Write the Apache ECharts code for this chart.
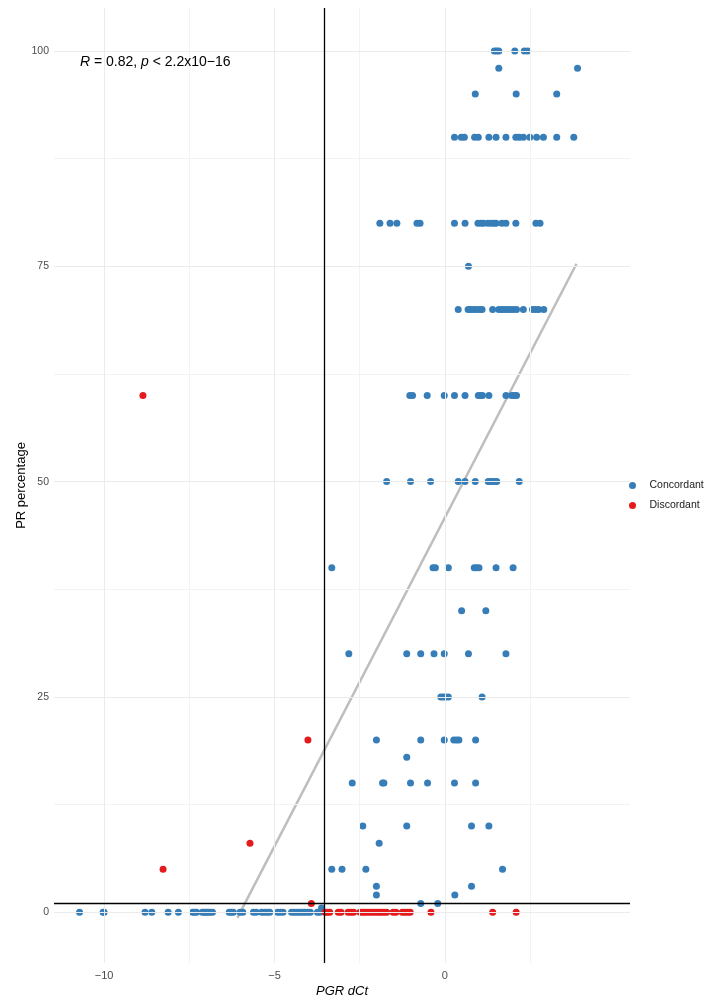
<!DOCTYPE html>
<html>
<head>
<meta charset="utf-8">
<script src="https://cdn.jsdelivr.net/npm/echarts@6/dist/echarts.min.js"></script>
<style>html,body{margin:0;padding:0;background:#fff}#c{width:712px;height:999px}</style>
</head>
<body>
<div id="c"></div>
<script>
// ---- data ----
const xTicks = [-10, -5, 0];
const yTicks = [0, 25, 50, 75, 100];
const xMinor = [-7.5, -2.5, 2.5];
const yMinor = [12.5, 37.5, 62.5, 87.5];
const refHLine = 1;
const refVLine = -3.53;
const fitLine = [[-6.09, -0.66], [3.86, 75.3]];

const concordant = [
  [1.45,100],[1.52,100],[1.58,100],[2.05,100],[2.33,100],[2.43,100],
  [1.58,98],[3.89,98],
  [0.89,95],[2.09,95],[3.28,95],
  [0.28,90],[0.48,90],[0.57,90],[0.87,90],[0.98,90],[1.29,90],[1.50,90],[1.79,90],[2.08,90],[2.18,90],[2.30,90],[2.49,90],[2.69,90],[2.89,90],[3.28,90],[3.78,90],
  [-1.91,80],[-1.61,80],[-1.41,80],[-0.82,80],[-0.73,80],[0.28,80],[0.59,80],[0.97,80],[1.06,80],[1.13,80],[1.26,80],[1.35,80],[1.43,80],[1.50,80],[1.67,80],[1.79,80],[2.08,80],[2.67,80],[2.79,80],
  [0.69,75],
  [0.39,70],[0.68,70],[0.75,70],[0.83,70],[0.91,70],[1.01,70],[1.09,70],[1.40,70],[1.58,70],[1.66,70],[1.74,70],[1.83,70],[1.91,70],[2.00,70],[2.10,70],[2.30,70],[2.57,70],[2.66,70],[2.75,70],[2.90,70],
  [-1.03,60],[-0.95,60],[-0.52,60],[-0.02,60],[0.28,60],[0.59,60],[0.98,60],[1.05,60],[1.10,60],[1.29,60],[1.79,60],[1.96,60],[2.03,60],[2.10,60],
  [-1.71,50],[-1.01,50],[-0.42,50],[0.39,50],[0.59,50],[0.89,50],[1.27,50],[1.35,50],[1.44,50],[1.52,50],[2.18,50],
  [-3.32,40],[-0.35,40],[-0.28,40],[0.10,40],[0.86,40],[0.93,40],[1.00,40],[1.50,40],[2.00,40],
  [0.49,35],[1.20,35],
  [-2.82,30],[-1.12,30],[-0.71,30],[-0.32,30],[-0.02,30],[0.69,30],[1.79,30],
  [-0.12,25],[-0.05,25],[0.02,25],[0.10,25],[1.09,25],
  [-2.01,20],[-0.71,20],[-0.02,20],[0.26,20],[0.34,20],[0.41,20],[0.90,20],
  [-1.12,18],
  [-2.72,15],[-1.83,15],[-1.79,15],[-1.01,15],[-0.51,15],[0.28,15],[0.90,15],
  [-2.41,10],[-1.12,10],[0.78,10],[1.29,10],
  [-1.93,8],
  [-3.32,5],[-3.02,5],[-2.32,5],[1.69,5],
  [-2.01,3],[0.78,3],
  [-2.01,2],[0.29,2],
  [-0.71,1],[-0.21,1],
  [-3.62,0.5],
  [-10.72,0],[-10.03,0],[-10.0,0],[-8.8,0],[-8.6,0],[-8.12,0],[-7.82,0],[-7.4,0],[-7.35,0],[-7.29,0],[-7.12,0],[-7.06,0],[-7.0,0],[-6.95,0],[-6.89,0],[-6.82,0],[-6.33,0],[-6.27,0],[-6.21,0],[-6.01,0],[-5.93,0],[-5.62,0],[-5.54,0],[-5.38,0],[-5.30,0],[-5.22,0],[-5.14,0],[-4.91,0],[-4.83,0],[-4.75,0],[-4.50,0],[-4.42,0],[-4.34,0],[-4.26,0],[-4.18,0],[-4.11,0],[-4.03,0],[-3.95,0],[-3.74,0],[-3.67,0]
];

const discordant = [
  [-8.86,60],[-4.02,20],[-5.72,8],[-8.27,5],[-3.92,1],
  [-3.52,0],[-3.45,0],[-3.38,0],[-3.13,0],[-3.05,0],[-2.84,0],[-2.76,0],[-2.68,0],[-2.49,0],[-2.41,0],[-2.34,0],[-2.26,0],[-2.18,0],[-2.10,0],[-2.02,0],[-1.94,0],[-1.87,0],[-1.79,0],[-1.71,0],[-1.52,0],[-1.44,0],[-1.25,0],[-1.17,0],[-1.09,0],[-1.02,0],[-0.41,0],[1.40,0],[2.09,0]
];

// ---- chart ----
const FONT = '"Liberation Sans", Arial, Helvetica, sans-serif';
const chart = echarts.init(document.getElementById('c'), null, {renderer: 'canvas'});

function gridMark(axis, vals, color, width) {
  return {
    type: 'line', data: [], silent: true, z: 0,
    markLine: {
      silent: true, symbol: ['none', 'none'], animation: false,
      label: {show: false},
      lineStyle: {color: color, width: width, type: 'solid'},
      emphasis: {disabled: true},
      data: vals.map(v => ({[axis]: v}))
    }
  };
}

const minusFmt = v => String(v).replace('-', '\u2212');

chart.setOption({
  animation: false,
  textStyle: {fontFamily: FONT},
  grid: {left: 54, right: 82, top: 8, bottom: 36, containLabel: false, outerBoundsMode: 'none'},
  xAxis: {
    type: 'value', min: -11.47, max: 5.43,
    axisLine: {show: false}, axisTick: {show: false}, splitLine: {show: false},
    axisLabel: {customValues: xTicks, formatter: minusFmt, color: '#4d4d4d', fontSize: 11, margin: 7, fontFamily: FONT},
    name: 'PGR dCt', nameLocation: 'middle', nameGap: 22, nameMoveOverlap: false,
    nameTextStyle: {fontStyle: 'italic', fontSize: 13, color: '#000', fontFamily: FONT}
  },
  yAxis: {
    type: 'value', min: -5.9, max: 105,
    axisLine: {show: false}, axisTick: {show: false}, splitLine: {show: false},
    axisLabel: {customValues: yTicks, color: '#4d4d4d', fontSize: 10.5, margin: 5, fontFamily: FONT},
    name: 'PR percentage', nameLocation: 'middle', nameGap: 26, nameRotate: 90, nameMoveOverlap: false,
    nameTextStyle: {fontSize: 13, color: '#000', fontFamily: FONT}
  },
  legend: {
    orient: 'vertical', left: 624, top: 475, itemGap: 9, padding: 5,
    icon: 'circle', itemWidth: 24, itemHeight: 7,
    textStyle: {fontSize: 10.5, color: '#1a1a1a', fontFamily: FONT},
    data: ['Concordant', 'Discordant']
  },
  graphic: [{
    type: 'text', left: 80, top: 55, z: 100,
    style: {
      text: '{i|R} = 0.82, {i|p} < 2.2x10\u221216',
      fill: '#000', fontSize: 14, fontFamily: FONT,
      rich: {i: {fontStyle: 'italic', fontSize: 14, fontFamily: FONT, fill: '#000'}}
    }
  }],
  series: [
    gridMark('xAxis', xMinor, '#f3f3f3', 1),
    gridMark('yAxis', yMinor, '#f3f3f3', 1),
    gridMark('xAxis', xTicks, '#ebebeb', 1),
    gridMark('yAxis', yTicks, '#ebebeb', 1),
    {
      type: 'line', data: fitLine, showSymbol: false, symbol: 'none', silent: true, z: 1,
      lineStyle: {color: '#bebebe', width: 2.5}
    },
    {
      name: 'Concordant', type: 'scatter', data: concordant, symbolSize: 7, z: 3,
      itemStyle: {color: '#377EB8', opacity: 1}
    },
    {
      name: 'Discordant', type: 'scatter', data: discordant, symbolSize: 7, z: 3,
      itemStyle: {color: '#E41A1C', opacity: 1}
    },
    {
      type: 'line', data: [], silent: true, z: 4,
      markLine: {
        silent: true, symbol: ['none', 'none'], label: {show: false},
        lineStyle: {color: '#000', width: 1.3, type: 'solid'},
        data: [{yAxis: refHLine}, {xAxis: refVLine}]
      }
    }
  ]
});
</script>
</body>
</html>
